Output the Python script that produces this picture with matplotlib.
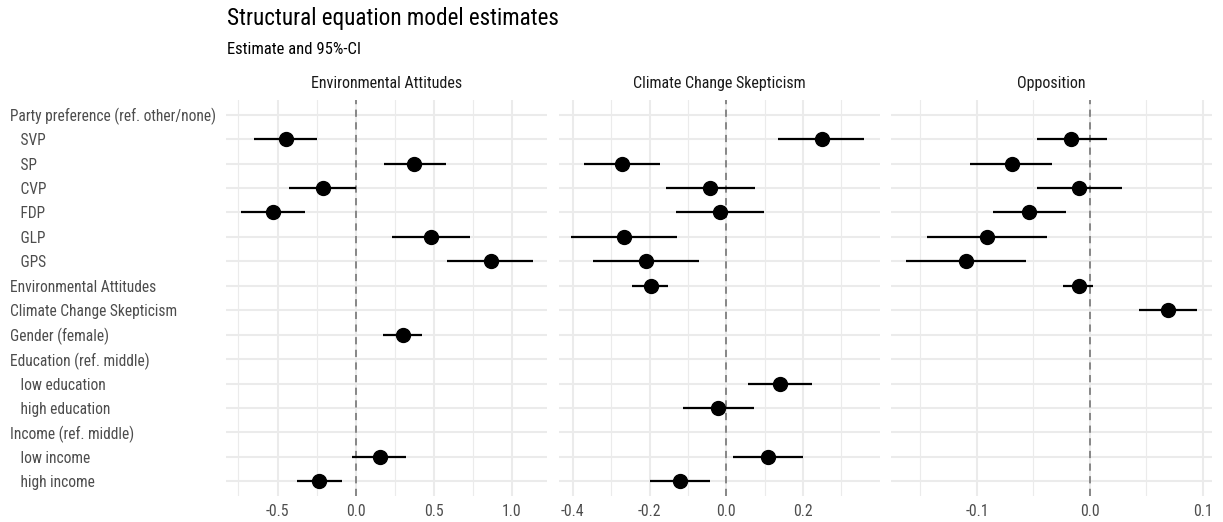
import matplotlib
matplotlib.use("Agg")
import matplotlib.pyplot as plt
import numpy as np

plt.rcParams['font.family'] = ['Roboto Condensed', 'Liberation Sans Narrow', 'Roboto', 'DejaVu Sans']

terms = ["Party preference (ref. other/none)", "SVP", "SP", "CVP", "FDP", "GLP", "GPS",
         "Environmental Attitudes", "Climate Change Skepticism", "Gender (female)",
         "Education (ref. middle)", "low education", "high education",
         "Income (ref. middle)", "low income", "high income"]
indented = [False, True, True, True, True, True, True, False, False, False,
            False, True, True, False, True, True]

panels = ["Environmental Attitudes", "Climate Change Skepticism", "Opposition"]

nan = np.nan
# estimates, lower, upper per panel (order of terms)
est_env = [nan, -0.445, 0.374, -0.209, -0.532, 0.482, 0.865, nan, nan, 0.300, nan, nan, nan, nan, 0.158, -0.232]
lo_env  = [nan, -0.649, 0.181, -0.424, -0.736, 0.234, 0.585, nan, nan, 0.172, nan, nan, nan, nan, -0.021, -0.378]
hi_env  = [nan, -0.245, 0.576, 0.005, -0.323, 0.729, 1.135, nan, nan, 0.427, nan, nan, nan, nan, 0.323, -0.087]

est_ccs = [nan, 0.249, -0.272, -0.041, -0.017, -0.266, -0.209, -0.197, nan, nan, nan, 0.140, -0.021, nan, 0.108, -0.120]
lo_ccs  = [nan, 0.135, -0.371, -0.156, -0.130, -0.404, -0.348, -0.245, nan, nan, nan, 0.058, -0.113, nan, 0.017, -0.198]
hi_ccs  = [nan, 0.360, -0.172, 0.075, 0.098, -0.128, -0.070, -0.151, nan, nan, nan, 0.223, 0.072, nan, 0.199, -0.043]

est_opp = [nan, -0.0165, -0.069, -0.0097, -0.054, -0.091, -0.110, -0.010, 0.069, nan, nan, nan, nan, nan, nan, nan]
lo_opp  = [nan, -0.047, -0.106, -0.047, -0.086, -0.144, -0.163, -0.024, 0.0435, nan, nan, nan, nan, nan, nan, nan]
hi_opp  = [nan, 0.015, -0.034, 0.028, -0.021, -0.038, -0.057, 0.003, 0.095, nan, nan, nan, nan, nan, nan, nan]

major_ticks = [[-0.5, 0.0, 0.5, 1.0], [-0.4, -0.2, 0.0, 0.2], [-0.1, 0.0, 0.1]]
minor_ticks = [[-0.75, -0.25, 0.25, 0.75], [-0.3, -0.1, 0.1, 0.3], [-0.15, -0.05, 0.05]]
xlims = [(-0.83, 1.225), (-0.436, 0.401), (-0.176, 0.108)]

W, H = 1223, 522
fig = plt.figure(figsize=(W / 100, H / 100), dpi=100)

lefts = [226, 559, 891]
width = 321
top, bottom = 100, 496

data = [(est_env, lo_env, hi_env), (est_ccs, lo_ccs, hi_ccs), (est_opp, lo_opp, hi_opp)]
n = len(terms)
ypos = np.arange(n, 0, -1)  # first term at top

for i, (est, lo, hi) in enumerate(data):
    ax = fig.add_axes([lefts[i] / W, 1 - bottom / H, width / W, (bottom - top) / H])
    for s in ax.spines.values():
        s.set_visible(False)
    ax.set_xlim(*xlims[i])
    ax.set_ylim(0.4, n + 0.6)
    ax.set_xticks(major_ticks[i])
    ax.set_xticklabels([f"{t:.1f}" for t in major_ticks[i]])
    ax.set_xticks(minor_ticks[i], minor=True)
    ax.set_yticks(ypos)
    ax.tick_params(axis='both', which='both', length=0)
    ax.tick_params(axis='x', labelsize=11.3, labelcolor='#4D4D4D', pad=6)
    ax.grid(True, which='major', color='#EBEBEB', linewidth=1.5, zorder=0)
    ax.grid(True, which='minor', axis='x', color='#EBEBEB', linewidth=0.8, zorder=0)
    ax.set_axisbelow(True)
    if i == 0:
        ax.set_yticklabels([("   " + t) if ind else t for t, ind in zip(terms, indented)])
        ax.tick_params(axis='y', labelsize=11.2, labelcolor='#4D4D4D', pad=155.5)
        for lab in ax.get_yticklabels():
            lab.set_horizontalalignment('left')
    else:
        ax.set_yticklabels([])
    ax.axvline(0, color='#7F7F7F', linestyle=(0, (4, 3)), linewidth=1.3, zorder=1)
    est_a = np.array(est, dtype=float)
    lo_a = np.array(lo, dtype=float)
    hi_a = np.array(hi, dtype=float)
    m = ~np.isnan(est_a)
    ax.hlines(ypos[m], lo_a[m], hi_a[m], color='black', linewidth=1.6, zorder=3)
    ax.plot(est_a[m], ypos[m], 'o', color='black', markersize=10, zorder=4)
    ax.set_title(panels[i], fontsize=11.5, color='#1A1A1A', pad=9)

fig.text(227 / W, 1 - 19 / H, "Structural equation model estimates", fontsize=16.7,
         ha='left', va='center', color='black')
fig.text(227 / W, 1 - 50 / H, "Estimate and 95%-CI", fontsize=12,
         ha='left', va='center', color='black')

fig.savefig("out.png", dpi=100, facecolor='white')
